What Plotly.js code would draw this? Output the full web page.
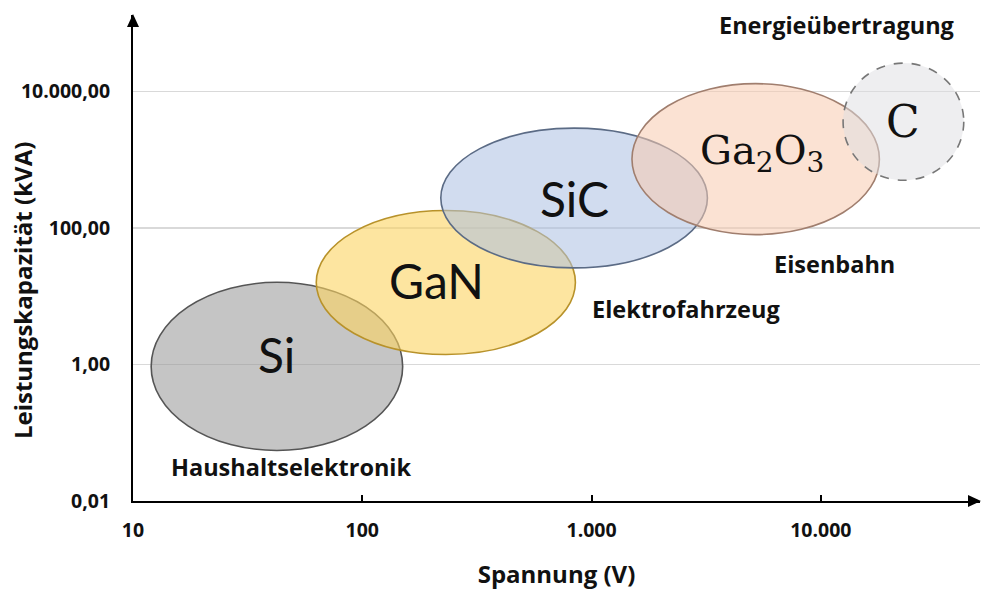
<!DOCTYPE html>
<html><head><meta charset="utf-8">
<script src="https://cdn.plot.ly/plotly-3.0.1.min.js"></script>
<style>html,body{margin:0;padding:0;background:#fff}#chart{width:1000px;height:596px}</style>
</head><body><div id="chart"></div>
<script>
const materials = ['Si', 'GaN', 'SiC', 'Ga<sub>2</sub>O<sub>3</sub>', 'C'];
const voltageMin = [12, 63, 220, 1500, 12500];
const voltageMax = [150, 850, 3200, 18000, 42000];
const powerMin = [0.055, 1.4, 26, 80, 500];
const powerMax = [16, 180, 2900, 13000, 26000];
const applications = ['Haushaltselektronik', 'Elektrofahrzeug', 'Eisenbahn', 'Energieübertragung'];
const appVoltage = [49, 2580, 11500, 11650];
const appPower = [0.0315, 6.5, 29.7, 94000];
const xTickVals = [10, 100, 1000, 10000];
const xTickText = ['10', '100', '1.000', '10.000'];
const yTickVals = [0.01, 1, 100, 10000];
const yTickText = ['0,01', '1,00', '100,00', '10.000,00'];

const fills = ['rgba(150,150,150,0.55)', 'rgba(252,212,97,0.6)', 'rgba(171,191,226,0.55)', 'rgba(248,202,175,0.55)', 'rgba(221,221,225,0.5)'];
const borders = ['#555555', '#b8922a', '#5b6b85', '#a07e6e', '#777777'];
const dashes = ['solid', 'solid', 'solid', 'solid', 'dash'];
const labelFonts = ['Lato', 'Lato', 'Lato', 'DejaVu Serif', 'DejaVu Serif'];
const labelSizes = [48, 48, 48, 40, 44];
const labelXShift = [0, -9, 0, 6, 0];
const labelYShift = [12, 2, 0, 6, 0];
const boldFont = 'Open Sans';

const shapes = materials.map((m, i) => ({
  type: 'circle', xref: 'x', yref: 'y',
  x0: voltageMin[i], x1: voltageMax[i], y0: powerMin[i], y1: powerMax[i],
  fillcolor: fills[i], line: {color: borders[i], width: 1.6, dash: dashes[i]}, layer: 'above'
}));
// arrowheads at the ends of both axes
shapes.push({type: 'path', xref: 'paper', yref: 'paper', xsizemode: 'pixel', ysizemode: 'pixel',
  xanchor: 1, yanchor: 0, path: 'M 1 0 L -12 6 L -12 -6 Z', fillcolor: '#000', line: {width: 0}, layer: 'above'});
shapes.push({type: 'path', xref: 'paper', yref: 'paper', xsizemode: 'pixel', ysizemode: 'pixel',
  xanchor: 0, yanchor: 1, path: 'M 0 1 L -6 -12 L 6 -12 Z', fillcolor: '#000', line: {width: 0}, layer: 'above'});

const annotations = materials.map((m, i) => ({
  xref: 'x', yref: 'y',
  x: Math.log10(Math.sqrt(voltageMin[i] * voltageMax[i])),
  y: Math.log10(Math.sqrt(powerMin[i] * powerMax[i])),
  text: m, showarrow: false, xshift: labelXShift[i], yshift: labelYShift[i],
  font: {family: labelFonts[i], size: labelSizes[i], color: '#111'}
}));
applications.forEach((a, i) => annotations.push({
  xref: 'x', yref: 'y', x: Math.log10(appVoltage[i]), y: Math.log10(appPower[i]),
  text: a, showarrow: false,
  font: {family: boldFont, size: 23.5, weight: 700, color: '#111'}
}));
annotations.push({
  xref: 'paper', yref: 'paper', x: -0.131, y: 0.432, xanchor: 'center', yanchor: 'middle',
  text: 'Leistungskapazität (kVA)', textangle: -90, showarrow: false,
  font: {family: boldFont, size: 24, weight: 700, color: '#111'}
});

const trace = {
  x: materials.map((m, i) => Math.sqrt(voltageMin[i] * voltageMax[i])),
  y: materials.map((m, i) => Math.sqrt(powerMin[i] * powerMax[i])),
  mode: 'markers', marker: {opacity: 0}, hoverinfo: 'skip', showlegend: false, type: 'scatter'
};

const layout = {
  width: 1000, height: 596,
  margin: {l: 133, r: 20, t: 15, b: 95},
  paper_bgcolor: '#fff', plot_bgcolor: '#fff',
  showlegend: false,
  xaxis: {
    type: 'log', range: [1, 4.694], tickvals: xTickVals, ticktext: xTickText,
    showgrid: false, zeroline: false, showline: true, linecolor: '#000', linewidth: 2,
    ticks: 'inside', ticklen: 6, tickwidth: 2, tickcolor: '#000', ticklabelstandoff: 11,
    tickfont: {family: boldFont, size: 19.5, weight: 700, color: '#111'},
    title: {text: 'Spannung (V)', standoff: 24, font: {family: boldFont, size: 24, weight: 700, color: '#111'}},
    automargin: false, fixedrange: true
  },
  yaxis: {
    type: 'log', range: [-2, 5.12], tickvals: yTickVals, ticktext: yTickText,
    showgrid: true, gridcolor: '#d9d9d9', gridwidth: 1.5, zeroline: false,
    showline: true, linecolor: '#000', linewidth: 2, ticks: '', ticklabelstandoff: 17,
    tickfont: {family: boldFont, size: 19.5, weight: 700, color: '#111'},
    automargin: false, fixedrange: true
  },
  shapes: shapes,
  annotations: annotations
};

Plotly.newPlot('chart', [trace], layout, {displayModeBar: false, staticPlot: true});
</script>
</body></html>
